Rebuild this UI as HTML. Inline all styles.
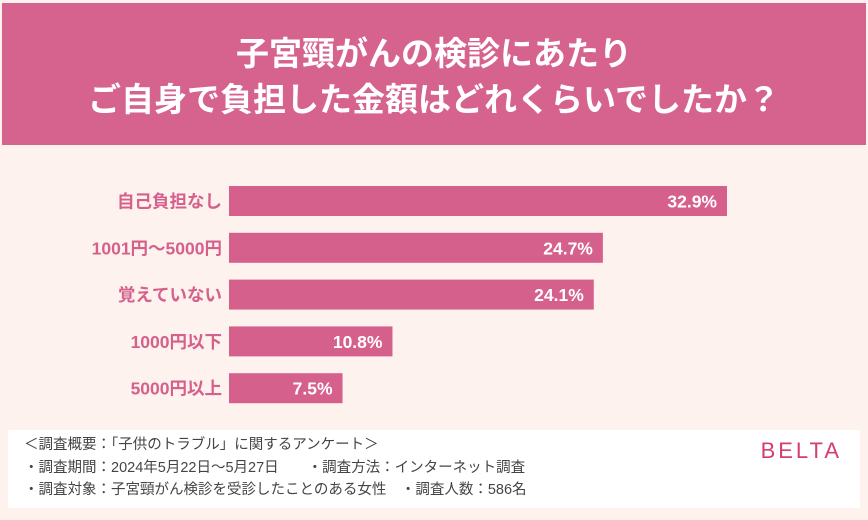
<!DOCTYPE html>
<html><head><meta charset="utf-8"><style>
body{margin:0;width:868px;height:520px;background:#fdf2ee;font-family:"Liberation Sans","Noto Sans CJK JP",sans-serif;position:relative;overflow:hidden}
#hdr{position:absolute;left:2px;top:3px;width:864px;height:142px;background:#d6628e;color:#fff;text-align:center;font-weight:bold;font-size:33px;line-height:46px;padding-top:28px;box-sizing:border-box}
#foot{position:absolute;left:8px;top:430px;width:852px;height:78px;background:#fff;font-size:14.5px;color:#444;line-height:22.5px;padding:4px 0 0 16px;box-sizing:border-box}
#logo{position:absolute;right:18px;top:10px;color:#d43c74;font-size:22px;letter-spacing:3px}
</style></head><body>
<div id="hdr">子宮頸がんの検診にあたり<br>ご自身で負担した金額はどれくらいでしたか？</div>
<svg id="chart" width="868" height="420" style="position:absolute;left:0;top:0"></svg>
<div id="foot">
<div>＜調査概要：「子供のトラブル」に関するアンケート＞</div>
<div>・調査期間：2024年5月22日～5月27日　　・調査方法：インターネット調査</div>
<div>・調査対象：子宮頸がん検診を受診したことのある女性　・調査人数：586名</div>
<div id="logo">BELTA</div>
</div>
<script>
const categories=["自己負担なし","1001円〜5000円","覚えていない","1000円以下","5000円以上"];
const values=[32.9,24.7,24.1,10.8,7.5];
const svg=document.getElementById('chart');
const NS="http://www.w3.org/2000/svg";
const x0=229,pxPer=498/32.9;
const xs=v=>v*pxPer;
const yc=i=>201+i*46.8;
categories.forEach((c,i)=>{
  const r=document.createElementNS(NS,'rect');
  r.setAttribute('x',x0);r.setAttribute('y',yc(i)-15);
  r.setAttribute('width',xs(values[i]));r.setAttribute('height',30);
  r.setAttribute('fill','#d6608c');
  
  
  svg.appendChild(r);
  const l=document.createElementNS(NS,'text');
  l.setAttribute('x',x0-7);l.setAttribute('y',yc(i)+6.5);
  l.setAttribute('text-anchor','end');l.setAttribute('font-size','17.5');
  l.setAttribute('font-weight','bold');l.setAttribute('fill','#d6608c');
  l.textContent=c;
  
  
  svg.appendChild(l);
  const t=document.createElementNS(NS,'text');
  t.setAttribute('x',x0+xs(values[i])-10);t.setAttribute('y',yc(i)+6.5);
  t.setAttribute('text-anchor','end');t.setAttribute('font-size','17.5');
  t.setAttribute('font-weight','bold');t.setAttribute('fill','#fff');
  t.textContent=values[i].toFixed(1)+'%';
  
  
  svg.appendChild(t);
});
</script>
</body></html>
